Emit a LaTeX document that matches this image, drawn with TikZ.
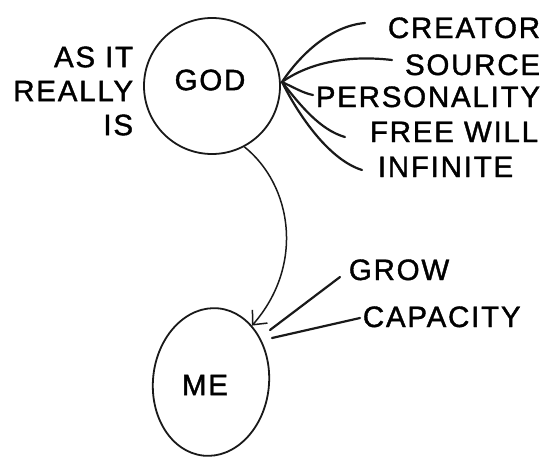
\documentclass[tikz,border=0pt]{standalone}
\usepackage{fontspec}
\setmainfont{Liberation Sans}[LetterSpace=6,FakeBold=1.3]
\usetikzlibrary{arrows.meta,shapes.geometric}
\begin{document}
\begin{tikzpicture}[x=1pt,y=-1pt,line width=1.8pt,
  lbl/.style={font=\fontsize{29.5}{34}\selectfont, inner sep=0pt},
  ink/.style={draw=black!90, line width=1.8pt},
  fanline/.style={draw=black!90, line width=2.2pt, line cap=round}]
\useasboundingbox[fill=white] (0,0) rectangle (544,464);
% main nodes
\node[ink, circle, minimum size=136pt, inner sep=0pt] (god) at (212,86) {};
\node[lbl] (godt) at (210,80) {GOD};
\node[ink, ellipse, minimum width=116pt, minimum height=148pt, inner sep=0pt, rotate=-6] (me) at (211,382) {};
\node[lbl] (met) at (205,385) {ME};
% left label
\node[lbl, align=right, anchor=east] (asit) at (134,91) {AS IT\\REALLY\\IS};
% right labels
\node[lbl, anchor=base east] (creator) at (541,38) {CREATOR};
\node[lbl, anchor=base east] (source) at (541,75) {SOURCE};
\node[lbl, anchor=base east] (person) at (541,107) {PERSONALITY};
\node[lbl, anchor=base east] (free) at (539,142) {FREE WILL};
\node[lbl, anchor=base west] (inf) at (377,177) {INFINITE};
\node[lbl, anchor=base west] (grow) at (348,280) {GROW};
\node[lbl, anchor=base west] (cap) at (362,327) {CAPACITY};
% free ends of the strokes
\coordinate (fan) at (282,82);
\coordinate (eCre) at (365,23);
\coordinate (eSou) at (392,60);
\coordinate (ePer) at (313,95);
\coordinate (eFre) at (345,137);
\coordinate (eInf) at (362,170);
\coordinate (eGro) at (340,277);
\coordinate (eCap) at (360,318);
\coordinate (m1) at (270,330);
\coordinate (m2) at (272,338);
% fan
\draw[fanline] (fan) .. controls (300,55) and (330,26) .. (eCre);
\draw[fanline] (fan) .. controls (310,62) and (350,55) .. (eSou);
\draw[fanline] (fan) .. controls (295,88) and (303,93) .. (ePer);
\draw[fanline] (fan) .. controls (300,105) and (320,130) .. (eFre);
\draw[fanline] (fan) .. controls (300,118) and (330,160) .. (eInf);
% arrow
\draw[ink, line width=1.5pt, -{Straight Barb[length=11pt,width=20pt,line width=1.5pt]}] (god.-62) .. controls (292,185) and (305,265) .. (me.60);
% me lines
\draw[fanline] (m1) -- (eGro);
\draw[fanline] (m2) -- (eCap);
\end{tikzpicture}
\end{document}
